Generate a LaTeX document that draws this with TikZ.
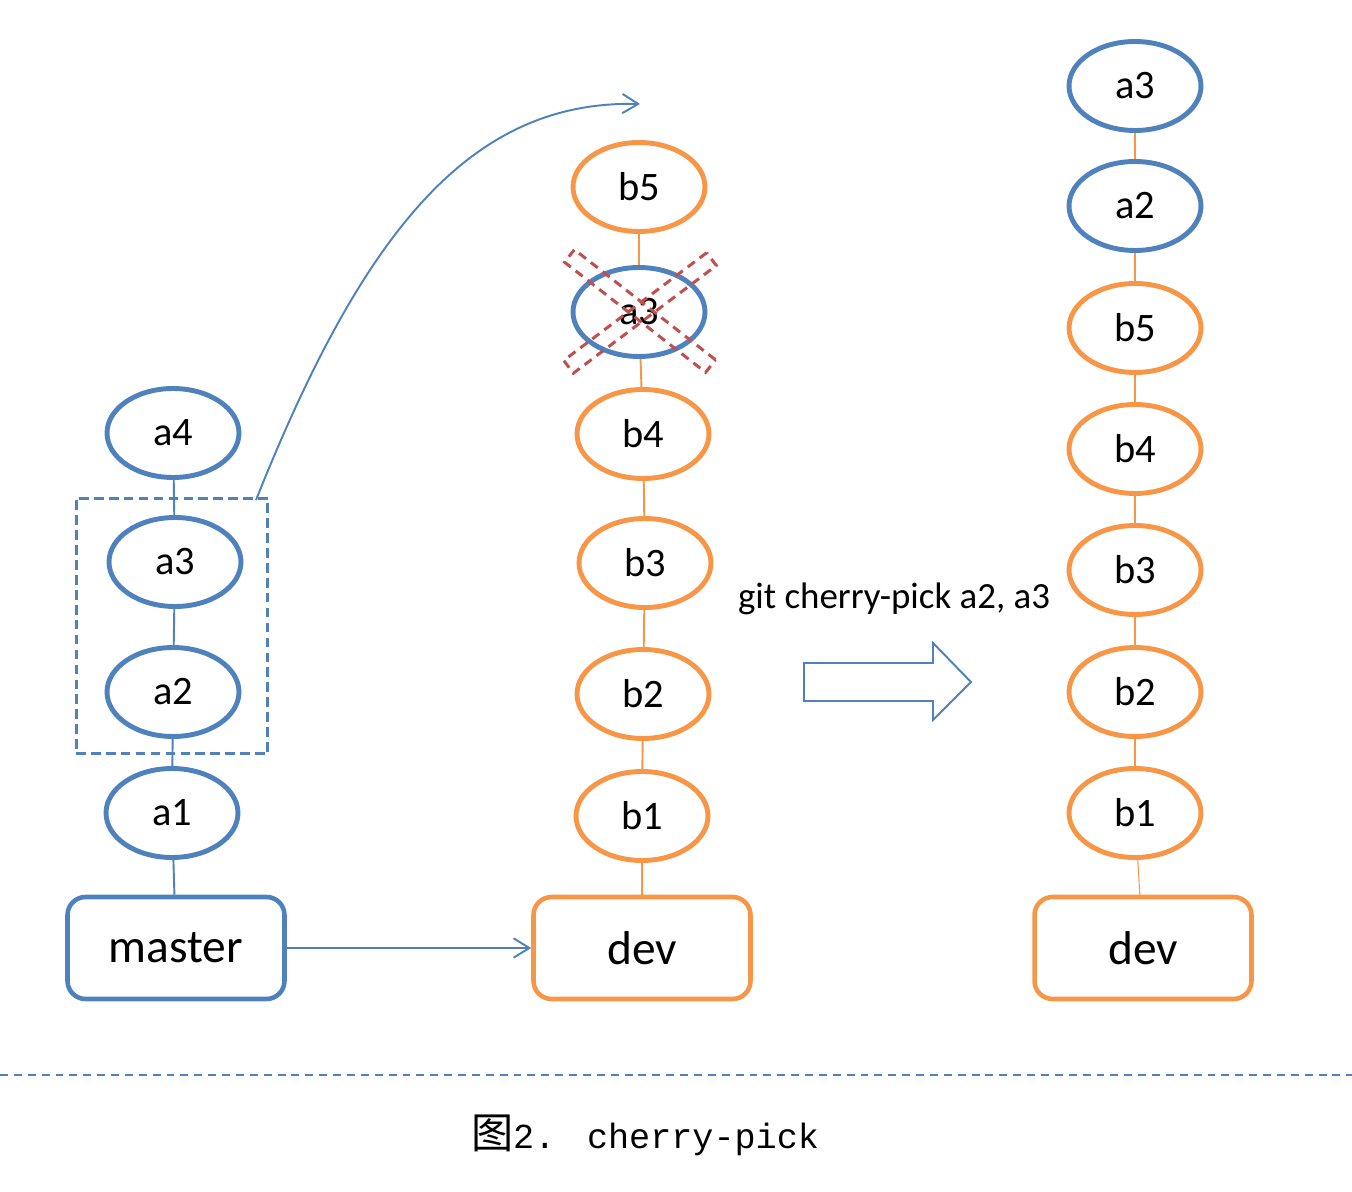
\documentclass[tikz,border=0pt]{standalone}
\usepackage{fontspec}
\setmainfont{Carlito}
\newfontfamily\cjk{Noto Sans CJK SC}
\newfontfamily\capfont{Liberation Mono}
\usetikzlibrary{arrows.meta,shapes.geometric}
\definecolor{gitblue}{HTML}{4F81BD}
\definecolor{gitorange}{HTML}{F79646}
\definecolor{gitred}{HTML}{C0504D}
\begin{document}
\begin{tikzpicture}[
                            x=0.02cm, y=-0.02cm,
                            >={Straight Barb[length=9pt,width=11pt]},
                            commit/.style={ellipse, draw, line width=2.8pt, minimum width=2.64cm, minimum height=1.78cm, inner sep=0pt, font=\fontsize{23}{28}\selectfont},
                            acommit/.style={commit, draw=gitblue},
                            bcommit/.style={commit, draw=gitorange},
                            branch/.style={rectangle, rounded corners=0.36cm, draw, line width=2.6pt, minimum width=4.34cm, minimum height=2.04cm, font=\fontsize{27}{32}\selectfont},
                            alink/.style={draw=gitblue, line width=1.1pt},
                            blink/.style={draw=gitorange, line width=1.1pt},
                            thinlink/.style={draw=gitorange, line width=0.6pt},
                            groupbox/.style={rectangle, draw=gitblue, line width=1.7pt, dash pattern=on 5.5pt off 3pt, minimum width=3.84cm, minimum height=5.12cm},
                            crossbar/.style={rectangle, draw=gitred, line width=1.7pt, dash pattern=on 5pt off 3.5pt, minimum width=3.58cm, minimum height=0.32cm},
                            hollow/.style={draw=gitblue, line width=1.1pt}
                        ]
                        \useasboundingbox (0,0) rectangle (1352,1192);
                        % Blocks
                        \node [acommit] (MA4) at (173,433) {a4};
                        \node [acommit] (MA3) at (175,562) {a3};
                        \node [acommit] (MA2) at (173,692) {a2};
                        \node [acommit] (MA1) at (172,813) {a1};
                        \node [branch,draw=gitblue] (MST) at (176,948) {master};
                        \node [groupbox] (GRP) at (172,626) {};

                        \node [bcommit] (DB5) at (639,187) {b5};
                        \node [acommit] (DA3) at (639,312) {a3};
                        \node [bcommit] (DB4) at (643,434) {b4};
                        \node [bcommit] (DB3) at (645,563) {b3};
                        \node [bcommit] (DB2) at (643,694) {b2};
                        \node [bcommit] (DB1) at (642,816) {b1};
                        \node [branch,draw=gitorange] (DEV) at (642,948) {dev};
                        \node [crossbar,rotate=-38] (XA) at (640,311) {};
                        \node [crossbar,rotate=37] (XB) at (640,313) {};

                        \node [acommit] (RA3) at (1135,86) {a3};
                        \node [acommit] (RA2) at (1135,206) {a2};
                        \node [bcommit] (RB5) at (1135,328) {b5};
                        \node [bcommit] (RB4) at (1135,449) {b4};
                        \node [bcommit] (RB3) at (1135,570) {b3};
                        \node [bcommit] (RB2) at (1135,692) {b2};
                        \node [bcommit] (RB1) at (1135,813) {b1};
                        \node [branch,draw=gitorange] (RDEV) at (1143,948) {dev};

                        \node [font=\fontsize{21}{25}\selectfont] (CMD) at (894,599) {git cherry-pick a2, a3};
                        \draw [hollow] (804,663) -- (933,663) -- (933,643) -- (971,682) -- (933,720) -- (933,701) -- (804,701) -- cycle;

                        \coordinate (CS) at (256,500);
                        \coordinate (CE) at (640,104);

                        % Connections
                        \draw [alink] (MA4) -- (MA3);
                        \draw [alink] (MA3) -- (MA2);
                        \draw [alink] (MA2) -- (MA1);
                        \draw [alink] (MA1) -- (MST);
                        \draw [blink] (DB5) -- (DA3);
                        \draw [blink] (DA3) -- (DB4);
                        \draw [blink] (DB4) -- (DB3);
                        \draw [blink] (DB3) -- (DB2);
                        \draw [blink] (DB2) -- (DB1);
                        \draw [blink] (DB1) -- (DEV);
                        \draw [thinlink] (RA3) -- (RA2);
                        \draw [thinlink] (RA2) -- (RB5);
                        \draw [thinlink] (RB5) -- (RB4);
                        \draw [thinlink] (RB4) -- (RB3);
                        \draw [thinlink] (RB3) -- (RB2);
                        \draw [thinlink] (RB2) -- (RB1);
                        \draw [thinlink] (RB1) -- (RDEV);
                        \draw [->,alink] (MST) -- (DEV);
                        \draw [->,alink] (CS) .. controls (363,232) and (470,100) .. (CE);

                        % Caption
                        \draw [draw=gitblue, line width=1.1pt, dash pattern=on 4.5pt off 3.4pt] (0,1075) -- (1352,1075);
                        \node [font=\capfont\fontsize{20}{24}\selectfont] (CAP) at (645,1135) {{\cjk\fontsize{24}{28}\selectfont 图}2.\hspace{18pt}cherry-pick};
                    \end{tikzpicture}
\end{document}
